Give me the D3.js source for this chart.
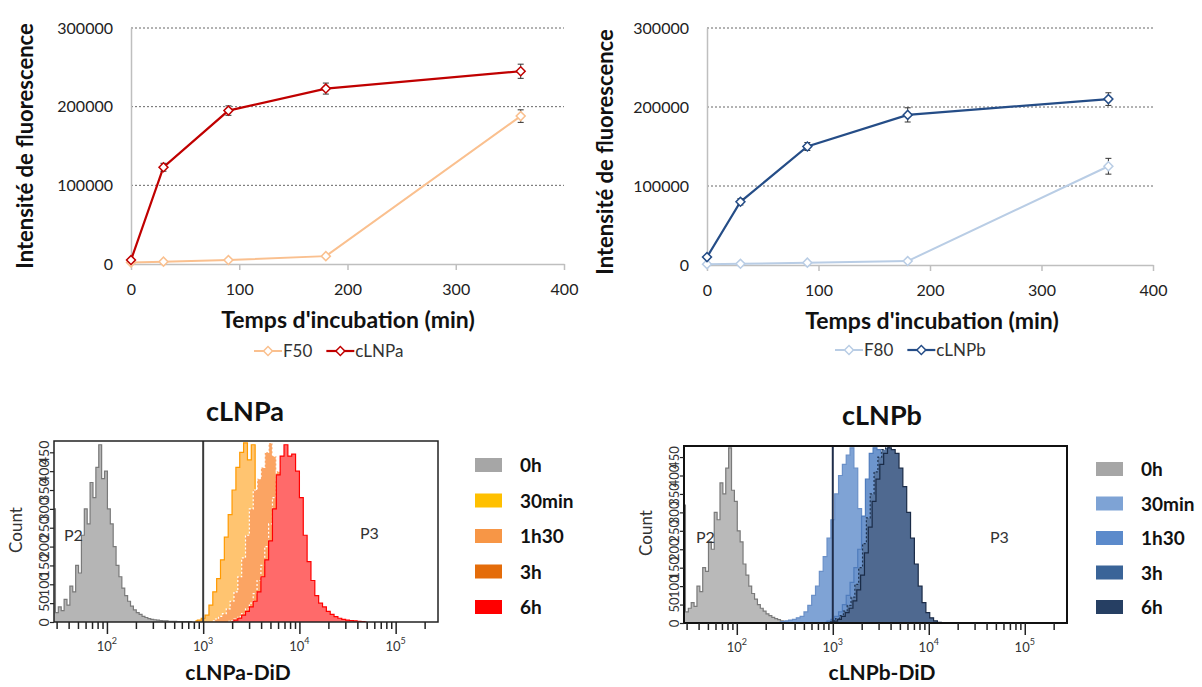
<!DOCTYPE html>
<html><head><meta charset="utf-8">
<script src="https://cdn.jsdelivr.net/npm/d3@7"></script>
<style>
body{margin:0;background:#fff}
svg text{font-family:Lato,'Open Sans',sans-serif}
</style>
</head><body>
<svg id="c" width="1202" height="687"></svg>
<script>
// ---------- line chart data ----------
const timeMin = [0, 30, 90, 180, 360];
const F50 = [2000, 3000, 5000, 10000, 188000];
const F50err = [0, 0, 0, 0, 8000];
const cLNPa = [5000, 123000, 195000, 223000, 245000];
const cLNPaErr = [2000, 5000, 6000, 7000, 9000];
const F80 = [1000, 1500, 3000, 5000, 125000];
const F80err = [0, 0, 0, 0, 10000];
const cLNPb = [10000, 80000, 150000, 190000, 210000];
const cLNPbErr = [2000, 4000, 5000, 9000, 8000];
const yTicks = [0, 100000, 200000, 300000];
const xTicks = [0, 100, 200, 300, 400];

// ---------- histogram data (log10 bin start, bin step, counts) ----------
const histLabels = ["0h", "30min", "1h30", "3h", "6h"];
const countTicks = [0, 50, 100, 150, 200, 250, 300, 350, 400, 450];
const decades = [2, 3, 4, 5];
const histA_start = [1.45, 2.92, 3.10, 3.26, 3.30];
const histA_step = [0.03, 0.04, 0.04, 0.04, 0.04];
const histA_0h = [300,25,40,30,60,45,95,80,150,130,230,300,260,370,330,410,470,380,400,300,260,200,150,120,90,70,55,42,32,25,20,15,12,9,7,6,5,4,3,3,2,2,2,1,1,1,1,1,0];
const histA_30min = [3,5,10,18,45,80,115,165,225,285,350,410,450,475,430,470,340,210,120,60,25,10,4,1];
const histA_1h30 = [3,8,15,22,35,55,80,120,170,230,300,350,380,410,450,475,440,380,250,150,80,40,15,5,2];
const histA_3h = [2,4,8,14,22,35,50,75,110,150,200,260,330,400,440,420,380,290,200,130,80,45,25,12,5,2];
const histA_6h = [2,5,10,18,28,40,55,80,120,165,215,300,390,440,470,440,445,400,330,230,160,110,70,50,40,28,20,14,10,7,5,4,3,2,1,0];

const histB_start = [1.45, 2.44, 2.92, 2.97, 2.99];
const histB_step = [0.03, 0.04, 0.04, 0.04, 0.04];
const histB_0h = [320,30,40,55,45,100,85,150,140,220,200,300,280,380,350,420,475,360,330,250,220,160,130,100,80,65,50,40,32,25,20,15,12,9,6,4,3,2,1,1,0];
const histB_30min = [2,4,6,8,10,14,18,30,48,75,100,140,180,230,280,350,400,430,455,475,420,310,200,130,80,45,22,10,4,1];
const histB_1h30 = [2,5,10,18,30,50,75,110,150,200,290,390,460,475,470,460,420,340,250,170,100,55,25,10,4,1];
const histB_3h = [3,6,12,20,32,48,70,105,150,215,285,350,410,450,470,475,460,430,380,320,250,180,120,70,38,18,8,3,1];
const histB_6h = [2,5,10,18,28,40,60,90,130,190,260,330,390,430,460,475,470,460,420,370,300,230,160,100,55,28,14,6,2,0];

const svg = d3.select("#c");

// ---------- line charts ----------
function lineChart(cfg) {
  const x = d3.scaleLinear().domain([0, 400]).range([cfg.left, cfg.right]);
  const y = d3.scaleLinear().domain([0, 300000]).range([cfg.bottom, cfg.top]);
  const g = svg.append("g");
  g.selectAll("line.grid").data(yTicks.filter(d => d > 0)).join("line")
    .attr("x1", cfg.left).attr("x2", cfg.right)
    .attr("y1", d => y(d)).attr("y2", d => y(d))
    .attr("stroke", "#666").attr("stroke-width", 1).attr("stroke-dasharray", "2,2");
  const ya = g.append("g").attr("transform", `translate(${cfg.left},0)`)
    .call(d3.axisLeft(y).tickValues(yTicks).tickSize(0).tickPadding(18).tickFormat(d3.format("d")));
  ya.select(".domain").attr("stroke", "#bfbfbf").attr("stroke-width", 1.5);
  ya.selectAll("text").attr("font-size", 16).attr("fill", "#222").attr("font-family", "Lato");
  const xa = g.append("g").attr("transform", `translate(0,${cfg.bottom})`)
    .call(d3.axisBottom(x).tickValues(xTicks).tickSize(6).tickSizeOuter(0).tickPadding(14));
  xa.select(".domain").attr("stroke", "#bfbfbf").attr("stroke-width", 1.5);
  xa.selectAll(".tick line").attr("stroke", "#bfbfbf").attr("stroke-width", 1.5);
  xa.selectAll("text").attr("font-size", 16).attr("fill", "#222").attr("font-family", "Lato");

  g.append("text").attr("transform", `translate(${cfg.ytX},${cfg.ytY}) rotate(-90)`)
    .attr("text-anchor", "middle").attr("font-weight", "bold").attr("font-size", 22)
    .attr("fill", "#111").text("Intensité de fluorescence");
  g.append("text").attr("x", cfg.xtX).attr("y", cfg.xtY)
    .attr("text-anchor", "middle").attr("font-weight", "bold").attr("font-size", 23)
    .attr("fill", "#111").text("Temps d'incubation (min)");

  const line = d3.line().x((d, i) => x(timeMin[i])).y(d => y(d));
  const diamond = d3.symbol(d3.symbolSquare, 40);
  cfg.series.forEach(s => {
    g.append("path").datum(s.values).attr("d", line)
      .attr("fill", "none").attr("stroke", s.color).attr("stroke-width", s.width);
    const eb = g.append("g");
    s.values.forEach((v, i) => {
      if (!s.err[i]) return;
      const cx = x(timeMin[i]);
      eb.append("line").attr("x1", cx).attr("x2", cx).attr("y1", y(v - s.err[i])).attr("y2", y(v + s.err[i]));
      eb.append("line").attr("x1", cx - 3).attr("x2", cx + 3).attr("y1", y(v - s.err[i])).attr("y2", y(v - s.err[i]));
      eb.append("line").attr("x1", cx - 3).attr("x2", cx + 3).attr("y1", y(v + s.err[i])).attr("y2", y(v + s.err[i]));
    });
    eb.selectAll("line").attr("stroke", "#333").attr("stroke-width", 1);
    g.selectAll(null).data(s.values).join("path")
      .attr("d", diamond)
      .attr("transform", (d, i) => `translate(${x(timeMin[i])},${y(d)}) rotate(45)`)
      .attr("fill", "#fff").attr("stroke", s.color).attr("stroke-width", 1.5);
  });
  // legend
  let lx = cfg.legX;
  cfg.series.forEach(s => {
    g.append("line").attr("x1", lx).attr("x2", lx + 28).attr("y1", cfg.legY).attr("y2", cfg.legY)
      .attr("stroke", s.color).attr("stroke-width", s.width);
    g.append("path").attr("d", diamond).attr("transform", `translate(${lx + 14},${cfg.legY}) rotate(45)`)
      .attr("fill", "#fff").attr("stroke", s.color).attr("stroke-width", 1.5);
    const t = g.append("text").attr("x", lx + 29).attr("y", cfg.legY + 6)
      .attr("font-size", 17).attr("fill", "#333").text(s.name);
    lx += 29 + t.node().getComputedTextLength() + 14;
  });
}

lineChart({left: 131, right: 564, top: 28, bottom: 264, ytX: 33, ytY: 146, xtX: 348, xtY: 328, legX: 254, legY: 351,
  series: [
    {name: "F50", values: F50, err: F50err, color: "#fac08f", width: 2},
    {name: "cLNPa", values: cLNPa, err: cLNPaErr, color: "#c00000", width: 2.2}
  ]});
lineChart({left: 707, right: 1153, top: 28, bottom: 265, ytX: 613, ytY: 152, xtX: 932, xtY: 329, legX: 835, legY: 350,
  series: [
    {name: "F80", values: F80, err: F80err, color: "#b9cde5", width: 2},
    {name: "cLNPb", values: cLNPb, err: cLNPbErr, color: "#254d87", width: 2.2}
  ]});

// ---------- histograms ----------
function histPanel(cfg) {
  const x = d3.scaleLog().domain([10 ** 1.45, 10 ** 5.44]).range([cfg.left, cfg.right]);
  const y = d3.scaleLinear().domain([0, 480]).range([cfg.bottom, cfg.top]);
  const g = svg.append("g");
  const cid = "clip" + cfg.id;
  g.append("clipPath").attr("id", cid).append("rect")
    .attr("x", cfg.left).attr("y", cfg.top).attr("width", cfg.right - cfg.left).attr("height", cfg.bottom - cfg.top);
  const hg = g.append("g").attr("clip-path", `url(#${cid})`);
  const area = d3.area().curve(d3.curveStep).x(d => x(d.v)).y0(y(0)).y1(d => y(d.c));
  const line = d3.line().curve(d3.curveStep).x(d => x(d.v)).y(d => y(d.c));
  cfg.series.forEach((counts, k) => {
    const pts = counts.map((c, i) => ({v: 10 ** (cfg.start[k] + i * cfg.step[k]), c}));
    hg.append("path").datum(pts).attr("d", area).attr("fill", cfg.fills[k]);
    hg.append("path").datum(pts).attr("d", line).attr("fill", "none")
      .attr("stroke", cfg.strokes[k]).attr("stroke-width", 1.2)
      .attr("stroke-dasharray", cfg.dash[k]);
  });
  // gate line
  g.append("line").attr("x1", x(1000)).attr("x2", x(1000)).attr("y1", cfg.top).attr("y2", cfg.bottom)
    .attr("stroke", cfg.gate).attr("stroke-width", 2);
  // frame
  g.append("rect").attr("x", cfg.left).attr("y", cfg.top).attr("width", cfg.right - cfg.left)
    .attr("height", cfg.bottom - cfg.top).attr("fill", "none").attr("stroke", cfg.frame).attr("stroke-width", cfg.frameW);
  // x ticks (log)
  const minor = [];
  for (let d = 1; d <= 5; d++) for (let k = 1; k <= 9; k++) {
    const v = k * 10 ** d;
    if (v >= 10 ** 1.45 && v <= 10 ** 5.44) minor.push(v);
  }
  const xa = g.append("g").attr("transform", `translate(0,${cfg.bottom})`)
    .call(d3.axisBottom(x).tickValues(minor).tickSize(6).tickFormat(""));
  xa.select(".domain").remove();
  xa.selectAll(".tick line").attr("stroke", "#222").attr("stroke-width", 1.5)
    .attr("y2", d => (Math.abs(Math.log10(d) - Math.round(Math.log10(d))) < 1e-9) ? 12 : 7);
  decades.forEach(p => {
    const t = g.append("text").attr("x", x(10 ** p)).attr("y", cfg.bottom + 29)
      .attr("text-anchor", "middle").attr("font-family", "Liberation Sans, Arial")
      .attr("font-size", 13).attr("fill", "#333");
    t.append("tspan").text("10");
    t.append("tspan").attr("font-size", 9).attr("dy", -7).text(p);
  });
  // y ticks
  const ya = g.append("g").attr("transform", `translate(${cfg.left},0)`)
    .call(d3.axisLeft(y).tickValues(countTicks).tickSize(4).tickPadding(0));
  ya.select(".domain").remove();
  ya.selectAll(".tick line").attr("stroke", "#222").attr("stroke-width", 1.2);
  ya.selectAll("text").attr("x", null).attr("dy", null).attr("text-anchor", "middle")
    .attr("transform", "translate(-5,0) rotate(-90)").attr("font-size", cfg.tickFont)
    .attr("font-family", "Liberation Sans, Arial").attr("fill", "#333");
  g.append("text").attr("transform", `translate(${cfg.countX},${cfg.countY}) rotate(-90)`)
    .attr("text-anchor", "middle").attr("font-family", "Liberation Sans, Arial")
    .attr("font-size", 17).attr("fill", "#333").text("Count");
  g.append("text").attr("x", cfg.p2[0]).attr("y", cfg.p2[1]).attr("font-family", "Liberation Sans, Arial")
    .attr("font-size", 16).attr("fill", "#333").text("P2");
  g.append("text").attr("x", cfg.p3[0]).attr("y", cfg.p3[1]).attr("font-family", "Liberation Sans, Arial")
    .attr("font-size", 16).attr("fill", "#333").text("P3");
  // titles
  g.append("text").attr("x", cfg.titleX).attr("y", cfg.titleY).attr("text-anchor", "middle")
    .attr("font-weight", "bold").attr("font-size", 27).attr("fill", "#111").text(cfg.title);
  g.append("text").attr("x", cfg.xtX).attr("y", cfg.xtY).attr("text-anchor", "middle")
    .attr("font-weight", "bold").attr("font-size", 21).attr("fill", "#111").text(cfg.title + "-DiD");
  // legend
  histLabels.forEach((lab, i) => {
    const yy = cfg.legY + i * cfg.legDy;
    g.append("rect").attr("x", cfg.legX).attr("y", yy - 7).attr("width", 27).attr("height", 14)
      .attr("fill", cfg.legColors[i]);
    g.append("text").attr("x", cfg.legX + 45).attr("y", yy + 7).attr("font-weight", "bold")
      .attr("font-size", 19).attr("fill", "#111").text(lab);
  });
}

histPanel({id: "A", left: 54, right: 438, top: 441, bottom: 622,
  start: histA_start, step: histA_step,
  series: [histA_0h, histA_30min, histA_1h30, histA_3h, histA_6h],
  fills: ["#b5b5b5", "#ffc470", "#fba463", "#fba463", "#ff6a6a"],
  strokes: ["#7a7a7a", "#ff9a00", "#ffffff", "#ffffff", "#ff0000"],
  dash: [null, null, "2,2", "2,2", null],
  gate: "#3a3a3a", frame: "#222", frameW: 1.5, tickFont: 14,
  countX: 22, countY: 530, p2: [64, 541], p3: [360, 539],
  title: "cLNPa", titleX: 245, titleY: 421, xtX: 238, xtY: 680,
  legX: 475, legY: 465, legDy: 35.5,
  legColors: ["#a6a6a6", "#ffc000", "#f79646", "#e46c0a", "#ff0000"]});

histPanel({id: "B", left: 684, right: 1067, top: 446, bottom: 623,
  start: histB_start, step: histB_step,
  series: [histB_0h, histB_30min, histB_1h30, histB_3h, histB_6h],
  fills: ["#b9b9b9", "#7fa3d5", "#6d95cd", "#5877a2", "#4f6990"],
  strokes: ["#7a7a7a", "#6a90c8", "#4f7cbd", "#1f3350", "#1a2b47"],
  dash: [null, null, null, "2,2", null],
  gate: "#1f2d4a", frame: "#111", frameW: 2, tickFont: 13,
  countX: 652, countY: 533, p2: [696, 543], p3: [990, 543],
  title: "cLNPb", titleX: 882, titleY: 425, xtX: 882, xtY: 680,
  legX: 1096, legY: 469, legDy: 34.5,
  legColors: ["#a6a6a6", "#7ea3d5", "#5b8acb", "#3a6498", "#263f63"]});
</script>
</body></html>
